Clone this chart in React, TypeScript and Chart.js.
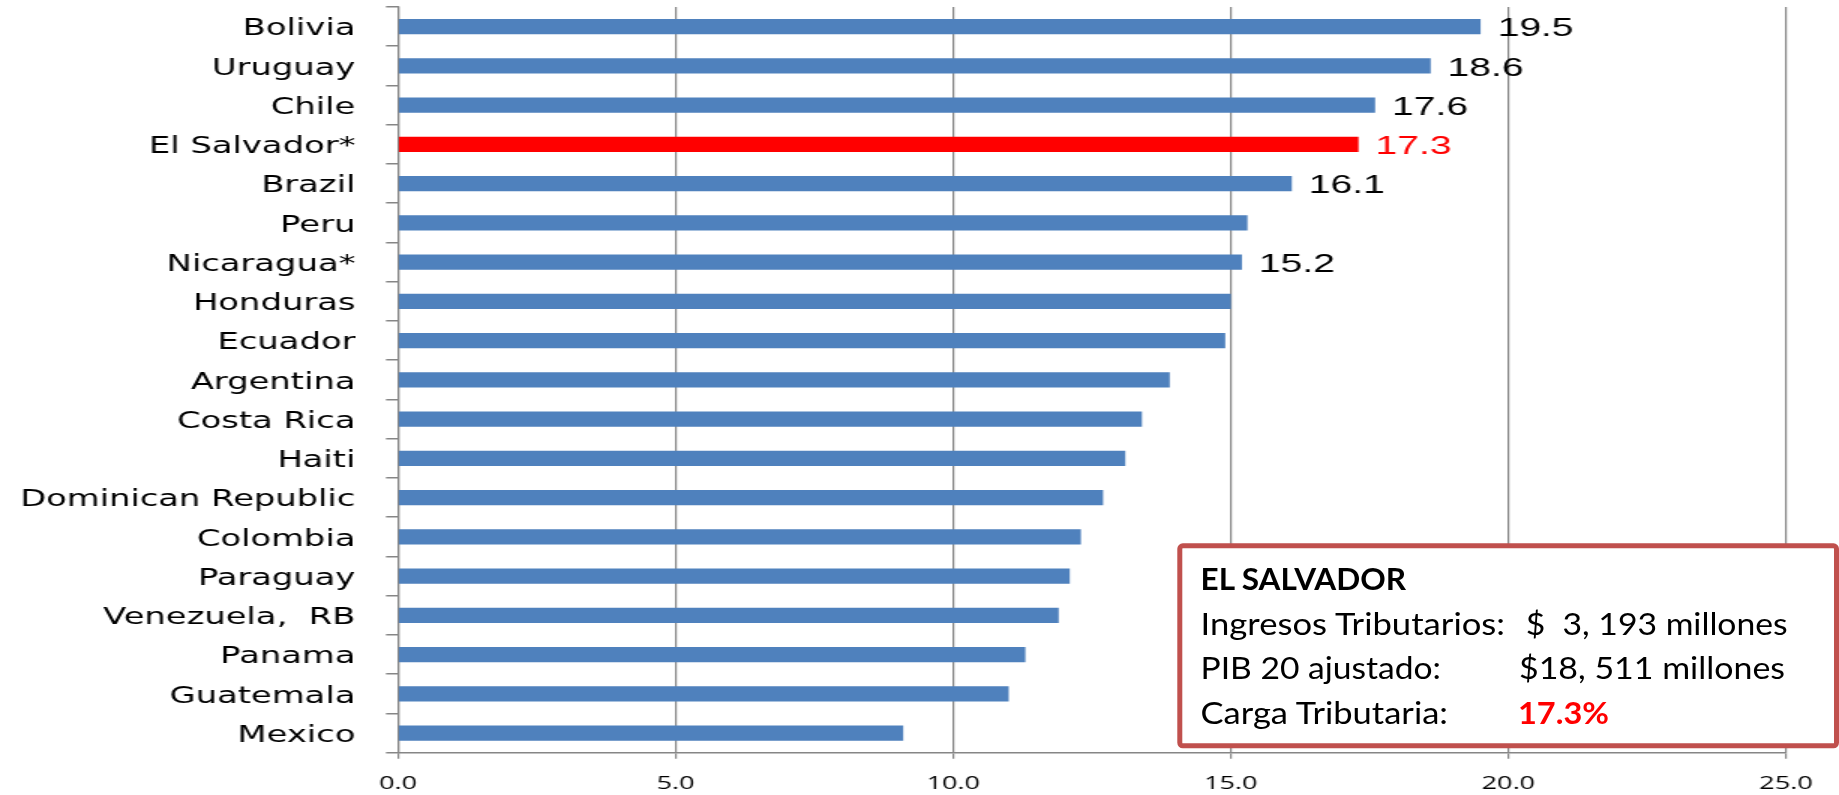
import React, { useEffect, useRef } from 'react';
import { Chart, registerables } from 'chart.js';

Chart.register(...registerables);

// ---------- data ----------
const countries = [
  'Bolivia',
  'Uruguay',
  'Chile',
  'El Salvador*',
  'Brazil',
  'Peru',
  'Nicaragua*',
  'Honduras',
  'Ecuador',
  'Argentina',
  'Costa Rica',
  'Haiti',
  'Dominican Republic',
  'Colombia',
  'Paraguay',
  'Venezuela,  RB',
  'Panama',
  'Guatemala',
  'Mexico',
];

const taxBurden = [
  19.5, 18.6, 17.6, 17.3, 16.1, 15.3, 15.2, 15.0, 14.9, 13.9, 13.4, 13.1, 12.7,
  12.3, 12.1, 11.9, 11.3, 11.0, 9.1,
];

const xTickValues = [0, 5, 10, 15, 20, 25];

const highlightCountry = 'El Salvador*';
const labeledCountries = ['Bolivia', 'Uruguay', 'Chile', 'El Salvador*', 'Brazil', 'Nicaragua*'];

const boxTitle = 'EL SALVADOR';
const boxLabels = ['Ingresos Tributarios:', 'PIB 20 ajustado:', 'Carga Tributaria:'];
const boxValues = ['$  3, 193 millones', '$18, 511 millones', '17.3%'];

// ---------- layout (full-page pixels) ----------
const W = 1839;
const H = 795;
const S = 1.5; // the original chart is horizontally stretched
const IW = Math.round(W / S);
const PLOT_LEFT = 398;
const PLOT_RIGHT = 1786;
const PLOT_TOP = 7;
const PLOT_BOTTOM = 752.7;

const BLUE = '#4F81BD';
const RED = '#FF0000';
const GRID = '#868686';

const valueLabels = {
  id: 'valueLabels',
  afterDatasetsDraw(chart: any) {
    const meta = chart.getDatasetMeta(0);
    const ctx = chart.ctx;
    ctx.save();
    ctx.font = '26px "Liberation Sans", Arial, sans-serif';
    ctx.textAlign = 'left';
    ctx.textBaseline = 'middle';
    meta.data.forEach((bar: any, i: number) => {
      const name = countries[i];
      if (!labeledCountries.includes(name)) return;
      ctx.fillStyle = name === highlightCountry ? RED : '#000000';
      ctx.fillText(taxBurden[i].toFixed(1), bar.x + 17 / S, bar.y + 2.5);
    });
    ctx.restore();
  },
};

export default function App() {
  const ref = useRef<HTMLCanvasElement | null>(null);

  useEffect(() => {
    document.body.style.margin = '0';
    const canvas = ref.current;
    if (!canvas) return;
    const chart = new Chart(canvas, {
      type: 'bar',
      data: {
        labels: countries,
        datasets: [
          {
            data: taxBurden,
            backgroundColor: countries.map((c) => (c === highlightCountry ? RED : BLUE)),
            borderWidth: 0,
            barPercentage: 0.39,
            categoryPercentage: 1,
          },
        ],
      },
      options: {
        indexAxis: 'y',
        responsive: false,
        animation: false,
        layout: {
          padding: { left: 0, right: IW - PLOT_RIGHT / S, top: PLOT_TOP, bottom: 0 },
        },
        plugins: {
          legend: { display: false },
          tooltip: { enabled: false },
          title: { display: false },
        },
        scales: {
          x: {
            type: 'linear',
            min: 0,
            max: 25,
            afterBuildTicks: (scale: any) => {
              scale.ticks = xTickValues.map((v) => ({ value: v }));
            },
            afterFit: (scale: any) => {
              scale.height = H - PLOT_BOTTOM;
            },
            ticks: {
              callback: (v: any) => Number(v).toFixed(1),
              color: '#000000',
              font: { family: '"Open Sans", sans-serif', size: 18 },
              padding: 14,
              maxRotation: 0,
            },
            grid: {
              color: GRID,
              lineWidth: 1.2,
              tickLength: 6,
              drawTicks: true,
            },
            border: { color: GRID, width: 1.5 },
          },
          y: {
            type: 'category',
            afterFit: (scale: any) => {
              scale.width = PLOT_LEFT / S;
              scale.paddingTop = 0;
              scale.paddingBottom = 0;
            },
            ticks: {
              color: '#000000',
              font: { family: '"DejaVu Sans", Verdana, sans-serif', size: 22.5 },
              padding: 20.4,
              autoSkip: false,
              labelOffset: 3,
            },
            grid: {
              drawOnChartArea: false,
              drawTicks: true,
              tickLength: 8,
              color: GRID,
              lineWidth: 1.5,
              offset: true,
            },
            border: { color: GRID, width: 1.2 },
          },
        },
      },
      plugins: [valueLabels],
    });
    return () => chart.destroy();
  }, []);

  const labelX = 1200.5;
  const rowY = [635, 679.3, 724];
  const valueX = [1525.7, 1519, 1518];
  const labelLens = [304.5, 240.5, 247.5];
  const valueLens = [262, 266, 91];

  return (
    <div
      style={{
        position: 'fixed',
        left: 0,
        top: 0,
        width: W,
        height: H,
        overflow: 'hidden',
        background: '#ffffff',
      }}
    >
      <div
        style={{
          position: 'absolute',
          left: 0,
          top: 0,
          width: IW,
          height: H,
          transform: `scaleX(${W / IW})`,
          transformOrigin: '0 0',
        }}
      >
        <canvas ref={ref} width={IW} height={H} style={{ display: 'block' }} />
      </div>
      <svg
        width={W}
        height={H}
        style={{ position: 'absolute', left: 0, top: 0, pointerEvents: 'none' }}
      >
        <rect
          x={1179.8}
          y={545.8}
          width={W - 2.5 - 1179.8}
          height={200}
          rx={3}
          ry={3}
          fill="#ffffff"
          stroke="#C0504D"
          strokeWidth={5}
        />
        <text
          x={labelX}
          y={590}
          fontFamily="Lato, 'Open Sans', sans-serif"
          fontSize={31}
          fontWeight="bold"
          fill="#000000"
          textLength={205.5}
          lengthAdjust="spacingAndGlyphs"
        >
          {boxTitle}
        </text>
        {boxLabels.map((t, i) => (
          <text
            key={'l' + i}
            x={labelX}
            y={rowY[i]}
            fontFamily="Lato, 'Open Sans', sans-serif"
            fontSize={31}
            fill="#000000"
            textLength={labelLens[i]}
            lengthAdjust="spacingAndGlyphs"
          >
            {t}
          </text>
        ))}
        {boxValues.map((t, i) => (
          <text
            key={'v' + i}
            x={valueX[i]}
            y={rowY[i]}
            fontFamily="Lato, 'Open Sans', sans-serif"
            fontSize={31}
            fontWeight={i === 2 ? 'bold' : 'normal'}
            fill={i === 2 ? RED : '#000000'}
            textLength={valueLens[i]}
            lengthAdjust="spacingAndGlyphs"
            style={{ whiteSpace: 'pre' }}
          >
            {t}
          </text>
        ))}
      </svg>
    </div>
  );
}
